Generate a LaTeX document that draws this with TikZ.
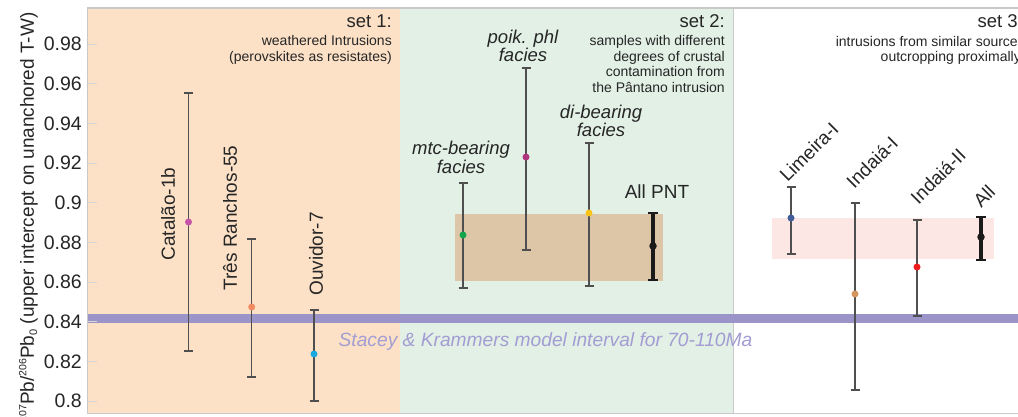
\documentclass[tikz,border=0pt]{standalone}
\usepackage{fontspec}
\setmainfont{Liberation Sans}
\definecolor{setonebg}{HTML}{FCE1C7}
\definecolor{settwobg}{HTML}{E2F0E6}
\definecolor{framegray}{HTML}{C9C9C9}
\definecolor{tickgray}{HTML}{D6D6D6}
\definecolor{pntbox}{HTML}{DCC6A7}
\definecolor{allbox}{HTML}{FCE7E4}
\definecolor{bandcol}{HTML}{9A94C8}
\definecolor{staceycol}{HTML}{A39DD3}
\definecolor{barcol}{HTML}{4F4F4F}
\definecolor{txtcol}{HTML}{262626}
\definecolor{cmag}{HTML}{C653A8}
\definecolor{csal}{HTML}{F38B62}
\definecolor{ccya}{HTML}{19A9E1}
\definecolor{cgre}{HTML}{13A54C}
\definecolor{cpur}{HTML}{B0357E}
\definecolor{cyel}{HTML}{FAC31A}
\definecolor{cblu}{HTML}{3F5E9A}
\definecolor{ctan}{HTML}{D4955E}
\definecolor{cred}{HTML}{EE1C1C}
\definecolor{cblk}{HTML}{1A1A1A}
\tikzset{
  barline/.style={draw=barcol, line width=1.3pt},
  thickbar/.style={draw=cblk, line width=3.4pt},
  thickcap/.style={draw=cblk, line width=2.4pt},
  dot/.style={circle, inner sep=0pt, minimum size=7pt},
  ticklab/.style={anchor=east, inner sep=0pt, text=txtcol, font=\fontsize{19.5}{22}\selectfont},
  samplab/.style={inner sep=0pt, text=txtcol, font=\fontsize{19}{22}\selectfont},
  facieslab/.style={inner sep=0pt, align=center, text=txtcol, font=\fontsize{18.5}{15.5}\selectfont\itshape},
  headbig/.style={anchor=base east, inner sep=0pt, text=txtcol, font=\fontsize{18.5}{22}\selectfont},
  headsmall/.style={anchor=base east, inner sep=0pt, text=txtcol, font=\fontsize{14}{16}\selectfont},
}
\newcommand\supnum[1]{\raisebox{7.5pt}{\fontsize{10.5}{11}\selectfont #1}}
\newcommand\subnum[1]{\raisebox{-3pt}{\fontsize{11}{11}\selectfont #1}}
\newcommand\errbar[6]{% name, x, top, bottom, point, colour
  \draw[barline] (#2,#3) -- (#2,#4);
  \draw[barline] (#2-4.5,#3) -- (#2+4.5,#3);
  \draw[barline] (#2-4.5,#4) -- (#2+4.5,#4);
  \node[dot, fill=#6] (#1) at (#2,#5) {};
}
\newcommand\errbarthick[5]{% name, x, top, bottom, point
  \draw[thickbar] (#2,#3) -- (#2,#4);
  \draw[thickcap] (#2-5,#3) -- (#2+5,#3);
  \draw[thickcap] (#2-5,#4) -- (#2+5,#4);
  \node[dot, fill=cblk, minimum size=7.5pt] (#1) at (#2,#5) {};
}
\begin{document}
\begin{tikzpicture}[x=1pt,y=-1pt]
\useasboundingbox (0,0) rectangle (1018,417);
\fill[white] (0,0) rectangle (1018,417);
% panels
\fill[setonebg] (88,8) rectangle (400,413);
\fill[settwobg] (400,8) rectangle (733,413);
\draw[framegray, line width=1.5pt] (733.5,8) -- (733.5,413);
\draw[framegray, line width=1pt] (87.5,8) -- (87.5,413.5);
\draw[framegray, line width=2pt] (87,8) -- (1018,8);
\draw[framegray, line width=1.5pt] (87,413.5) -- (1018,413.5);
% boxes
\fill[pntbox] (455,214) rectangle (663,281);
\fill[allbox] (772,218) rectangle (994,259);
% model band
\fill[bandcol] (88,314) rectangle (1018,323);
% ticks and labels
\foreach \k/\t in {0/0.8,1/0.82,2/0.84,3/0.86,4/0.88,5/0.9,6/0.92,7/0.94,8/0.96,9/0.98}{
  \draw[tickgray, line width=0.9pt] (88,{401-\k*39.67}) -- (97,{401-\k*39.67});
  \node[ticklab] (tick\k) at (82,{401-\k*39.67}) {\t};
}
% y-axis label
\node[rotate=90, anchor=base, inner sep=0pt, text=txtcol, font=\fontsize{19}{22}\selectfont] (ylab) at (34,217.5)
  {\supnum{207}Pb/\supnum{206}Pb\subnum{0} (upper intercept on unanchored T-W)};
% set 1
\errbar{cat}{188.5}{93}{351}{222}{cmag}
\errbar{tres}{251.7}{239}{377}{307}{csal}
\errbar{ouv}{314}{310}{401}{354}{ccya}
\node[samplab, rotate=90] (catlab) at (168,214) {Catalão-1b};
\node[samplab, rotate=90] (treslab) at (230,218) {Três Ranchos-55};
\node[samplab, rotate=90] (ouvlab) at (316,254) {Ouvidor-7};
\node[headbig] (h1) at (392,28) {set 1:};
\node[headsmall] (h1a) at (392,46) {weathered Intrusions};
\node[headsmall] (h1b) at (392,61.5) {(perovskites as resistates)};
% set 2
\errbar{mtc}{463}{183}{288}{235}{cgre}
\errbar{poik}{526}{68}{250}{157}{cpur}
\errbar{di}{589}{143}{286}{213}{cyel}
\errbarthick{pnt}{653}{213}{280}{246}
\node[facieslab] (mtclab) at (461,157.5) {mtc-bearing\\facies};
\node[facieslab] (poiklab) at (523,46) {poik. phl\\facies};
\node[facieslab] (dilab) at (601,121) {di-bearing\\facies};
\node[samplab] (pntlab) at (657,192) {All PNT};
\node[headbig] (h2) at (725,28) {set 2:};
\node[headsmall] (h2a) at (725,46) {samples with different};
\node[headsmall] (h2b) at (725,61.5) {degrees of crustal};
\node[headsmall] (h2c) at (725,77) {contamination from};
\node[headsmall] (h2d) at (725,92.5) {the Pântano intrusion};
% set 3
\errbar{lim}{791}{187}{254}{218}{cblu}
\errbar{ind}{855}{203}{390}{294}{ctan}
\errbar{indii}{917}{220}{316}{267}{cred}
\errbarthick{all}{981}{217}{260}{237}
\node[samplab, rotate=45] (limlab) at (809,152) {Limeira-I};
\node[samplab, rotate=45] (indlab) at (872,162) {Indaiá-I};
\node[samplab, rotate=45] (indiilab) at (938,176) {Indaiá-II};
\node[samplab, rotate=45] (alllab) at (984,196) {All};
\begin{scope}
\clip (734,0) rectangle (1018,417);
\node[headbig] (h3) at (1023,28) {set 3:};
\node[headsmall] (h3a) at (1025,46.5) {intrusions from similar sources};
\node[headsmall] (h3b) at (1021,62) {outcropping proximally};
\end{scope}
% model label
\node[anchor=base, inner sep=0pt, text=staceycol, font=\fontsize{19.2}{22}\selectfont\itshape] (stacey) at (545.5,346.5)
  {Stacey \& Krammers model interval for 70-110Ma};
\end{tikzpicture}
\end{document}
